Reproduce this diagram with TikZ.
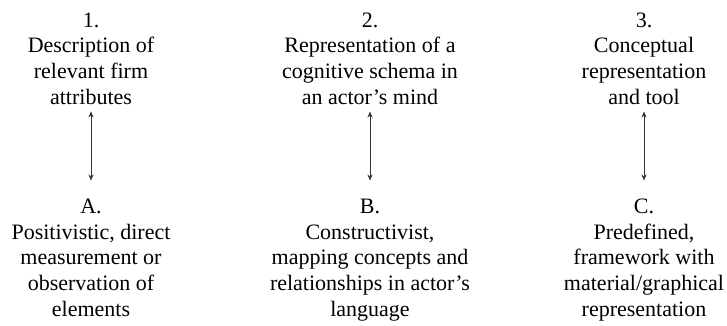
\documentclass[tikz,border=0pt]{standalone}
\usepackage{fontspec}
\setmainfont{Liberation Serif}
\usetikzlibrary{arrows.meta}
\begin{document}
\begin{tikzpicture}[x=1pt,y=-1pt,
  label/.style={align=center,inner sep=0pt,anchor=north,font=\fontsize{22}{25.6}\selectfont},
  link/.style={{Stealth[length=6pt,width=5pt]}-{Stealth[length=6pt,width=5pt]},line width=0.6pt,draw=black!80}]
\useasboundingbox (0,0) rectangle (727,325);
% top row
\node[label] (t1) at (91,12.5) {1.\\Description of\\relevant firm\\attributes};
\node[label] (t2) at (370,12.5) {2.\\Representation of a\\cognitive schema in\\an actor’s mind};
\node[label] (t3) at (644,12.5) {3.\\Conceptual\\representation\\and tool};
% bottom row
\node[label] (b1) at (91,199) {A.\\Positivistic, direct\\measurement or\\observation of\\elements};
\node[label] (b2) at (370,199) {B.\\Constructivist,\\mapping concepts and\\relationships in actor’s\\language};
\node[label] (b3) at (644,199) {C.\\Predefined,\\framework with\\material/graphical\\representation};
% links
\draw[link] ([yshift=-7pt]t1.south) -- ([yshift=18.5pt]b1.north);
\draw[link] ([yshift=-7pt]t2.south) -- ([yshift=18.5pt]b2.north);
\draw[link] ([yshift=-7pt]t3.south) -- ([yshift=18.5pt]b3.north);
\end{tikzpicture}
\end{document}
